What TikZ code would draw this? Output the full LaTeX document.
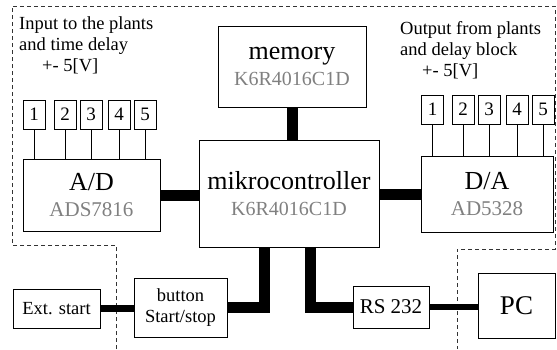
\documentclass[tikz,border=0pt]{standalone}
\usepackage{fontspec}
\setmainfont{Liberation Serif}
\usetikzlibrary{positioning}

\begin{document}
\begin{tikzpicture}[%
        x=1pt,y=-1pt,
        block/.style={%
          rectangle,
          draw,
          line width=1pt,
          inner sep=0pt,
          align=center
        },
        chan/.style={%
          block,
          minimum width=22pt,
          minimum height=29pt,
          font=\fontsize{19}{19}\selectfont
        },
        bus/.style={line width=11pt},
        wire/.style={line width=6.5pt},
        lead/.style={line width=1pt},
        zone/.style={dash pattern=on 4pt off 3pt, line width=0.7pt, black!80},
        big/.style={font=\fontsize{26}{28}\selectfont},
        note/.style={font=\fontsize{18.5}{21}\selectfont, align=left, inner sep=0pt}
      ]
      \useasboundingbox (0,0) rectangle (557,349);
      % dashed plant region
      \draw[zone] (116,349) -- (116,245) -- (12,245) -- (12,6) -- (555,6)
        -- (555,249) -- (457,249) -- (457,349);

      \node[block, big, minimum width=148pt, minimum height=81pt] (mem) at (292,66.5)
        {memory\\[-2pt]{\fontsize{20}{22}\selectfont\color{gray}K6R4016C1D}};
      \node[block, big, minimum width=180pt, minimum height=107pt] (mc) at (289,193.5)
        {mikrocontroller\\[-2pt]{\fontsize{20}{22}\selectfont\color{gray}K6R4016C1D}};
      \node[block, big, minimum width=137pt, minimum height=72pt] (ad) at (91.5,195)
        {A/D\\[-2pt]{\fontsize{21}{22}\selectfont\color{gray}ADS7816}};
      \node[block, big, minimum width=132pt, minimum height=76pt] (da) at (487,194)
        {D/A\\[-2pt]{\fontsize{21}{22}\selectfont\color{gray}AD5328}};
      \node[block, note, minimum width=87pt, minimum height=39pt] (ext) at (56.5,308.5) {Ext. start};
      \node[block, note, align=center, minimum width=93pt, minimum height=59pt] (btn) at (180.5,307.5)
        {button\\Start/stop};
      \node[block, minimum width=76pt, minimum height=42pt, font=\fontsize{21}{22}\selectfont] (rs) at (391,307) {RS 232};
      \node[block, minimum width=77pt, minimum height=65pt, font=\fontsize{27}{28}\selectfont] (pc) at (516.5,305.5) {PC};

      \node[note, anchor=north west] (intxt) at (19,16)
        {Input to the plants\\and time delay\\\hspace*{23pt}+- 5[V]};
      \node[note, anchor=north west] (outtxt) at (400,21)
        {Output from plants\\and delay block\\\hspace*{22pt}+- 5[V]};

      \foreach \n/\x in {1/34,2/65,3/91,4/119,5/145} {
        \node[chan] (in\n) at (\x,114.5) {\n};
        \draw[lead] (in\n.south) -- (in\n.south |- ad.north);
      }
      \foreach \n/\x in {1/432.5,2/463,3/489,4/517,5/543} {
        \node[chan] (out\n) at (\x,109.5) {\n};
        \draw[lead] (out\n.south) -- (out\n.south |- da.north);
      }

      \path (mc.south) ++(-25,0) coordinate (mcB1);
      \path (mc.south) ++(21,0) coordinate (mcB2);

      \draw[bus] (mem.south) -- (mem.south |- mc.north);
      \draw[bus] (ad.east) -- (ad.east -| mc.west);
      \draw[bus] (mc.east |- da.west) -- (da.west);
      \draw[wire] (ext.east) -- (ext.east -| btn.west);
      \draw[bus] (btn.east) -| (mcB1);
      \draw[bus] (mcB2) |- (rs.west);
      \draw[wire] (rs.east) -- (rs.east -| pc.west);
  \end{tikzpicture}
\end{document}
